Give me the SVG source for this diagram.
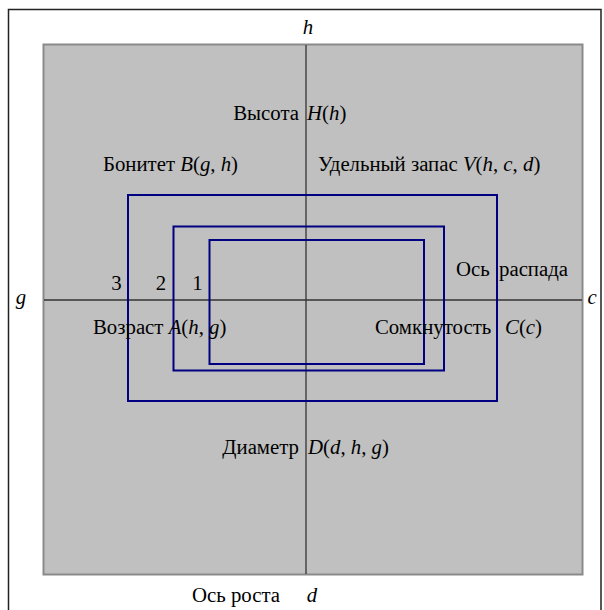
<svg xmlns="http://www.w3.org/2000/svg" width="604" height="610" viewBox="0 0 604 610">
<style>
text{font-family:"Liberation Serif","Times New Roman",serif;font-size:20.8px;fill:#000}
.i{font-style:italic}
.box{fill:none;stroke:#000080;stroke-width:2}
.axis{stroke:#333;stroke-width:1.3}
</style>
<rect x="0" y="0" width="604" height="610" fill="#fff"/>
<path d="M8.5 610 V9.5 H601 V610" fill="none" stroke="#222" stroke-width="1.5"/>
<g id="field">
<rect x="43.5" y="44.5" width="539" height="530" fill="#c0c0c0" stroke="#8a8a8a" stroke-width="2"/>
</g>
<g id="axes">
<line class="axis" x1="306" y1="45" x2="306" y2="574"/>
<line class="axis" x1="44" y1="300" x2="582" y2="300"/>
</g>
<g id="connectors">
<rect id="box3" class="box" x="128" y="195" width="369" height="206"/>
<rect id="box2" class="box" x="173.5" y="226.5" width="270.5" height="144"/>
<rect id="box1" class="box" x="209.5" y="240" width="214.5" height="124"/>
</g>
<g id="labels">
<text class="i" x="308" y="34" text-anchor="middle">h</text>
<text x="299" y="120" text-anchor="end">Высота</text>
<text x="307" y="120"><tspan class="i">H</tspan>(<tspan class="i">h</tspan>)</text>
<text x="103" y="171">Бонитет <tspan class="i">B</tspan>(<tspan class="i">g</tspan>, <tspan class="i">h</tspan>)</text>
<text x="318" y="171">Удельный запас <tspan class="i">V</tspan>(<tspan class="i">h</tspan>, <tspan class="i">c</tspan>, <tspan class="i">d</tspan>)</text>
<text x="456" y="276">Ось<tspan x="499">распада</tspan></text>
<text x="116.5" y="290" text-anchor="middle">3</text>
<text x="161" y="290" text-anchor="middle">2</text>
<text x="197.5" y="290" text-anchor="middle">1</text>
<text class="i" x="21" y="304" text-anchor="middle">g</text>
<text class="i" x="592" y="304" text-anchor="middle">c</text>
<text x="93" y="334">Возраст <tspan class="i">A</tspan>(<tspan class="i">h</tspan>, <tspan class="i">g</tspan>)</text>
<text x="375" y="334">Сомкнутость<tspan x="505" class="i">C</tspan>(<tspan class="i">c</tspan>)</text>
<text x="299" y="454" text-anchor="end">Диаметр</text>
<text x="308" y="454"><tspan class="i">D</tspan>(<tspan class="i">d</tspan>, <tspan class="i">h</tspan>, <tspan class="i">g</tspan>)</text>
<text x="192" y="602">Ось роста</text>
<text class="i" x="312" y="602" text-anchor="middle">d</text>
</g>
</svg>
